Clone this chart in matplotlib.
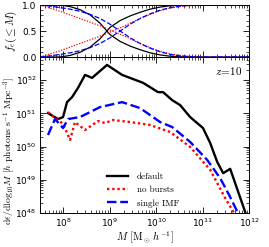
import numpy as np
import matplotlib
matplotlib.use("Agg")
import matplotlib.pyplot as plt
from matplotlib.ticker import LogLocator, NullFormatter, MultipleLocator

plt.rcParams['mathtext.fontset'] = 'cm'
plt.rcParams['font.family'] = 'DejaVu Sans'

# ---- main panel data (log10 M, log10 d eps / dlog10 M) ----
logM_default = [7.672, 7.888, 7.996, 8.082, 8.19, 8.319, 8.47, 8.621, 8.944, 9.267,
                9.72, 10.043, 10.151, 10.345, 10.517, 10.733, 11.009, 11.164, 11.315,
                11.444, 11.595, 11.95]
logE_default = [51.01, 50.83, 50.89, 51.34, 51.49, 51.77, 52.16, 52.07, 52.46, 52.16,
                51.92, 51.64, 51.64, 51.40, 51.25, 50.89, 50.56, 50.11, 49.54,
                49.20, 49.33, 47.9]

logM_nobursts = [7.672, 7.823, 7.931, 8.017, 8.147, 8.254, 8.47, 8.75, 8.9, 9.073,
                 9.44, 9.871, 10.302, 10.733, 11.164, 11.487, 11.70]
logE_nobursts = [51.04, 50.86, 50.77, 50.62, 50.2, 50.74, 50.5, 50.77, 50.71, 50.8,
                 50.74, 50.65, 50.44, 49.99, 49.3, 48.45, 47.95]

logM_single = [7.672, 7.823, 7.996, 8.103, 8.362, 8.793, 9.267, 9.655, 10.086, 10.345,
               10.733, 11.099, 11.379, 11.573, 11.78]
logE_single = [50.35, 50.83, 50.56, 50.83, 50.89, 51.19, 51.34, 51.16, 50.74, 50.59,
               50.14, 49.6, 49.05, 48.54, 47.95]

# ---- top panel: cumulative fraction f(<=M) ----
logM_cum = [7.5, 7.716, 7.931, 8.147, 8.362, 8.578, 8.793, 9.009, 9.224, 9.44,
            9.655, 9.871, 10.086, 10.302, 10.517, 10.733, 10.948, 12.0]
f_default = [0.0, 0.0, 0.0, 0.03, 0.09, 0.19, 0.35, 0.57, 0.70, 0.79,
             0.86, 0.92, 0.96, 0.985, 0.995, 1.0, 1.0, 1.0]
f_nobursts = [0.0, 0.06, 0.12, 0.19, 0.26, 0.33, 0.40, 0.48, 0.56, 0.65,
              0.74, 0.82, 0.89, 0.94, 0.97, 0.99, 1.0, 1.0]
f_single = [0.0, 0.02, 0.05, 0.08, 0.12, 0.18, 0.26, 0.37, 0.50, 0.63,
            0.74, 0.83, 0.90, 0.95, 0.98, 0.995, 1.0, 1.0]

labels = ['default', 'no bursts', 'single IMF']

W, H = 269, 247
fig = plt.figure(figsize=(W/100, H/100), dpi=100)
L, R = 40/W, 249/W
ax_top = fig.add_axes([L, 1-57/H, R-L, 52/H])
ax = fig.add_axes([L, 1-213/H, R-L, 156/H], sharex=ax_top)

styles = [dict(color='black', ls='-'),
          dict(color='red', ls=(0, (1, 1.2))),
          dict(color='blue', ls=(0, (4, 1.6)))]

Mc = 10**np.array(logM_cum)
for f, st in zip([f_default, f_nobursts, f_single], styles):
    f = np.array(f)
    ax_top.plot(Mc, f, lw=0.9, **st)
    ax_top.plot(Mc, 1-f, lw=0.9, **st)

for lm, le, st, lab in zip([logM_default, logM_nobursts, logM_single],
                           [logE_default, logE_nobursts, logE_single],
                           styles, labels):
    ax.plot(10**np.array(lm), 10**np.array(le), lw=1.7, label=lab, **st)

ax.set_xscale('log')
ax.set_yscale('log')
ax.set_xlim(10**7.5, 1e12)
ax.set_ylim(1e48, 5e52)
ax_top.set_ylim(0, 1)
ax_top.set_yticks([0, 0.5, 1.0])
ax_top.yaxis.set_minor_locator(MultipleLocator(0.1))
plt.setp(ax_top.get_xticklabels(), visible=False)

for a in (ax, ax_top):
    a.tick_params(which='both', direction='in', top=True, right=True, labelsize=6.5,
                  pad=2.5)
    a.tick_params(which='major', length=4, width=0.6)
    a.tick_params(which='minor', length=2, width=0.5)
    for s in a.spines.values():
        s.set_linewidth(0.7)
ax.xaxis.set_major_locator(LogLocator(base=10, numticks=10))
ax.xaxis.set_minor_locator(LogLocator(base=10, subs=np.arange(2, 10), numticks=20))
ax.yaxis.set_major_locator(LogLocator(base=10, numticks=10))
ax.yaxis.set_minor_locator(LogLocator(base=10, subs=np.arange(2, 10), numticks=20))
ax.yaxis.set_minor_formatter(NullFormatter())
ax.xaxis.set_minor_formatter(NullFormatter())

ax.set_xlabel(r'$M\ [\mathrm{M_\odot}\,h^{-1}]$', fontsize=7.5, labelpad=1)
ax.set_ylabel(r'$\mathrm{d}\epsilon/\mathrm{dlog}_{10}M\ [h\ \mathrm{photons\ s^{-1}\ Mpc^{-3}}]$',
              fontsize=7.0)
ax.yaxis.set_label_coords(-0.112, 0.4)
ax_top.set_ylabel(r'$f_\epsilon(\leq M)$', fontsize=8)
ax_top.yaxis.set_label_coords(-0.1, 0.5)

ax.text(0.967, 0.91, r'$z\!=\!10$', transform=ax.transAxes, ha='right', va='center',
        fontsize=8)

ax.legend(loc='lower left', bbox_to_anchor=(0.32, 0.035), frameon=False,
          borderpad=0, borderaxespad=0, handlelength=2.3,
          handletextpad=1.0, labelspacing=0.55,
          prop={'family': 'cmr10', 'size': 6.5})

fig.savefig('out.png', dpi=100)
